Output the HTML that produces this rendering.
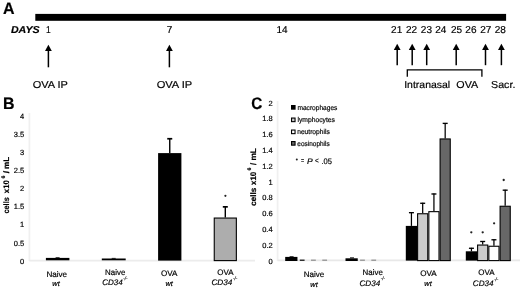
<!DOCTYPE html>
<html><head><meta charset="utf-8"><style>
html,body{margin:0;padding:0;background:#fff;}
svg{display:block;font-family:"Liberation Sans", sans-serif;text-rendering:geometricPrecision;filter:grayscale(1);}
text{stroke:#000;stroke-width:0.18px;}
</style></head><body>
<svg width="520" height="289" viewBox="0 0 520 289">
<rect width="520" height="289" fill="#fff"/>
<text transform="translate(3.05,13.5) scale(0.9981,1.0317)" font-size="16" font-weight="bold" fill="#000">A</text>
<rect x="35.3" y="13.9" width="470.8" height="6.9" fill="#000"/>
<text transform="translate(10.94,33.2) scale(1.0637,1.0000)" font-size="10" font-weight="bold" font-style="italic" fill="#000">DAYS</text>
<text transform="translate(45.93,33.2) scale(0.8500,1.0000)" font-size="10" fill="#000">1</text>
<text transform="translate(166.67,33.2)" font-size="10" fill="#000">7</text>
<text transform="translate(276.43,33.2)" font-size="10" fill="#000">14</text>
<text transform="translate(391.1,33.2)" font-size="10" fill="#000">21</text>
<text transform="translate(405.9,33.2)" font-size="10" fill="#000">22</text>
<text transform="translate(420.82,33.2)" font-size="10" fill="#000">23</text>
<text transform="translate(435.2,33.2)" font-size="10" fill="#000">24</text>
<text transform="translate(451.05,33.2)" font-size="10" fill="#000">25</text>
<text transform="translate(465.32,33.2)" font-size="10" fill="#000">26</text>
<text transform="translate(480.3,33.2)" font-size="10" fill="#000">27</text>
<text transform="translate(494.7,33.2)" font-size="10" fill="#000">28</text>
<path d="M45,50.9 L48.4,44.7 L51.8,50.9 Z" fill="#000"/>
<line x1="48.4" y1="50.4" x2="48.4" y2="67.3" stroke="#000" stroke-width="1.5"/>
<path d="M166,50.9 L169.4,44.7 L172.8,50.9 Z" fill="#000"/>
<line x1="169.4" y1="50.4" x2="169.4" y2="67.3" stroke="#000" stroke-width="1.5"/>
<path d="M393.8,50 L397.2,43.8 L400.6,50 Z" fill="#000"/>
<line x1="397.2" y1="49.5" x2="397.2" y2="65.2" stroke="#000" stroke-width="1.5"/>
<path d="M408.8,50 L412.2,43.8 L415.6,50 Z" fill="#000"/>
<line x1="412.2" y1="49.5" x2="412.2" y2="65.2" stroke="#000" stroke-width="1.5"/>
<path d="M423.3,50 L426.7,43.8 L430.1,50 Z" fill="#000"/>
<line x1="426.7" y1="49.5" x2="426.7" y2="65.2" stroke="#000" stroke-width="1.5"/>
<path d="M452.8,50 L456.2,43.8 L459.6,50 Z" fill="#000"/>
<line x1="456.2" y1="49.5" x2="456.2" y2="65.2" stroke="#000" stroke-width="1.5"/>
<path d="M482.1,50 L485.5,43.8 L488.9,50 Z" fill="#000"/>
<line x1="485.5" y1="49.5" x2="485.5" y2="65.2" stroke="#000" stroke-width="1.5"/>
<path d="M498,50 L501.4,43.8 L504.8,50 Z" fill="#000"/>
<line x1="501.4" y1="49.5" x2="501.4" y2="65.2" stroke="#000" stroke-width="1.5"/>
<path d="M407.3,76.7 V69.8 H481.9 V76.7" fill="none" stroke="#000" stroke-width="1.3"/>
<text transform="translate(32.66,87.7) scale(1.0965,1.0000)" font-size="10" fill="#000">OVA IP</text>
<text transform="translate(156.65,87.7) scale(1.1093,1.0000)" font-size="10" fill="#000">OVA IP</text>
<text transform="translate(404.21,87.6) scale(1.0460,1.0000)" font-size="10" fill="#000">Intranasal</text>
<text transform="translate(456.37,87.6) scale(1.0704,1.0000)" font-size="10" fill="#000">OVA</text>
<text transform="translate(491.07,87.6) scale(1.0654,1.0000)" font-size="10" fill="#000">Sacr.</text>
<text transform="translate(3.12,108.8) scale(0.9939,1.0408)" font-size="16" font-weight="bold" fill="#000">B</text>
<line x1="29.4" y1="113" x2="29.4" y2="261.1" stroke="#f0f0f0" stroke-width="1.8"/>
<line x1="29.4" y1="260.6" x2="255" y2="260.6" stroke="#ececec" stroke-width="1.6"/>
<text transform="translate(20.04,263.69)" font-size="7.5" fill="#000">0</text>
<text transform="translate(13.77,245.59)" font-size="7.5" fill="#000">0.5</text>
<text transform="translate(20.11,227.49)" font-size="7.5" fill="#000">1</text>
<text transform="translate(13.77,209.39)" font-size="7.5" fill="#000">1.5</text>
<text transform="translate(20.11,191.29)" font-size="7.5" fill="#000">2</text>
<text transform="translate(13.77,173.19)" font-size="7.5" fill="#000">2.5</text>
<text transform="translate(20.07,155.09)" font-size="7.5" fill="#000">3</text>
<text transform="translate(13.77,136.99)" font-size="7.5" fill="#000">3.5</text>
<text transform="translate(19.96,118.89)" font-size="7.5" fill="#000">4</text>
<g transform="translate(9.4,0) rotate(-90)">
<text transform="translate(-213.54,0) scale(0.9149,1.0000)" font-size="8" font-weight="bold" fill="#000">cells</text>
<text transform="translate(-193.13,0) scale(0.9675,1.0000)" font-size="8" font-weight="bold" fill="#000">x10</text>
<text transform="translate(-178.49,-4.6)" font-size="5.2" font-weight="bold" fill="#000">6</text>
<text transform="translate(-173.14,0) scale(1.1058,1.0000)" font-size="8" font-weight="bold" fill="#000">/</text>
<text transform="translate(-168.97,0) scale(1.0053,1.0000)" font-size="8" font-weight="bold" fill="#000">mL</text>
</g>
<rect x="45.9" y="257.9" width="23.5" height="2.4" fill="#000"/>
<rect x="101.8" y="258.5" width="23.9" height="1.8" fill="#000"/>
<line x1="169.75" y1="153.1" x2="169.75" y2="138.1" stroke="#000" stroke-width="1.4"/>
<line x1="167.25" y1="138.75" x2="172.25" y2="138.75" stroke="#000" stroke-width="1.7"/>
<rect x="158.1" y="153.1" width="23.3" height="107.5" fill="#000"/>
<line x1="225.3" y1="217.5" x2="225.3" y2="206.2" stroke="#000" stroke-width="1.4"/>
<line x1="222.8" y1="206.85" x2="227.8" y2="206.85" stroke="#000" stroke-width="1.7"/>
<rect x="214.25" y="218.05" width="22.1" height="42.55" fill="#adadad" stroke="#000" stroke-width="1.1"/>
<rect x="55.6" y="257.3" width="4" height="0.8" fill="#000"/>
<rect x="111.7" y="257.9" width="4" height="0.8" fill="#000"/>
<circle cx="225.4" cy="195.8" r="1.1" fill="#222"/>
<text transform="translate(46.4,276.5) scale(1.0082,1.0000)" font-size="8" fill="#000">Naive</text>
<text transform="translate(52.3,286.3)" font-size="7.4" font-style="italic" fill="#000">wt</text>
<text transform="translate(105.12,275.1) scale(0.9877,1.0000)" font-size="8" fill="#000">Naive</text>
<text transform="translate(102.21,285.4) scale(1.0041,1.0000)" font-size="8" font-style="italic" fill="#000">CD34</text>
<text transform="translate(123.33,280.4) scale(0.8966,1.0000)" font-size="5" font-style="italic" fill="#444">-/-</text>
<text transform="translate(160.99,276.2) scale(1.0113,1.0000)" font-size="8" fill="#000">OVA</text>
<text transform="translate(165.5,286.3)" font-size="7.4" font-style="italic" fill="#000">wt</text>
<text transform="translate(217.29,275.4) scale(0.9987,1.0000)" font-size="8" fill="#000">OVA</text>
<text transform="translate(211.4,285.4) scale(1.0243,1.0000)" font-size="8" font-style="italic" fill="#000">CD34</text>
<text transform="translate(232.93,280.4) scale(0.8966,1.0000)" font-size="5" font-style="italic" fill="#444">-/-</text>
<text transform="translate(251.24,108.83) scale(0.9542,1.0379)" font-size="16" font-weight="bold" fill="#000">C</text>
<line x1="277.6" y1="101" x2="277.6" y2="261.1" stroke="#f0f0f0" stroke-width="1.8"/>
<line x1="277.6" y1="260.4" x2="520" y2="260.4" stroke="#e8e8e8" stroke-width="1.6"/>
<text transform="translate(268.54,263.59)" font-size="7.5" fill="#000">0</text>
<text transform="translate(262.35,247.79)" font-size="7.5" fill="#000">0.2</text>
<text transform="translate(262.2,231.99)" font-size="7.5" fill="#000">0.4</text>
<text transform="translate(262.31,216.19)" font-size="7.5" fill="#000">0.6</text>
<text transform="translate(262.27,200.39)" font-size="7.5" fill="#000">0.8</text>
<text transform="translate(268.61,184.59)" font-size="7.5" fill="#000">1</text>
<text transform="translate(262.35,168.79)" font-size="7.5" fill="#000">1.2</text>
<text transform="translate(262.2,152.99)" font-size="7.5" fill="#000">1.4</text>
<text transform="translate(262.31,137.19)" font-size="7.5" fill="#000">1.6</text>
<text transform="translate(262.27,121.39)" font-size="7.5" fill="#000">1.8</text>
<text transform="translate(268.61,105.59)" font-size="7.5" fill="#000">2</text>
<g transform="translate(255.5,0) rotate(-90)">
<text transform="translate(-205.67,0) scale(1.0023,1.0000)" font-size="8" font-weight="bold" fill="#000">cells</text>
<text transform="translate(-184.93,0) scale(0.9830,1.0000)" font-size="8" font-weight="bold" fill="#000">x10</text>
<text transform="translate(-170.54,-4.2)" font-size="5.2" font-weight="bold" fill="#000">6</text>
<text transform="translate(-164.93,0) scale(0.9615,1.0000)" font-size="8" font-weight="bold" fill="#000">/</text>
<text transform="translate(-160.6,0) scale(1.0498,1.0000)" font-size="8" font-weight="bold" fill="#000">mL</text>
</g>
<rect x="291" y="105" width="4.6" height="4.7" fill="#000"/>
<text transform="translate(297.42,109.8) scale(0.9420,1.0000)" font-size="7" fill="#000">macrophages</text>
<rect x="291.55" y="118.05" width="3.5" height="3.6" fill="#cbcbcb" stroke="#000" stroke-width="1.1"/>
<text transform="translate(297.41,121.5) scale(0.9628,1.0000)" font-size="7" fill="#000">lymphocytes</text>
<rect x="291.55" y="130.05" width="3.5" height="3.6" fill="#fff" stroke="#000" stroke-width="1.1"/>
<text transform="translate(297.22,133.8) scale(0.9484,1.0000)" font-size="7" fill="#000">neutrophils</text>
<rect x="291.55" y="141.55" width="3.5" height="3.6" fill="#676767" stroke="#000" stroke-width="1.1"/>
<text transform="translate(297.36,145.5) scale(0.9224,1.0000)" font-size="7" fill="#000">eosinophils</text>
<circle cx="296.8" cy="159.4" r="1.0" fill="#222"/>
<text transform="translate(300.98,163.2) scale(0.7148,1.0000)" font-size="7.5" fill="#000">=</text>
<text transform="translate(306.89,163.6) scale(1.0714,1.0000)" font-size="8" font-style="italic" fill="#000">P</text>
<text transform="translate(314.93,163.2) scale(0.8522,1.0000)" font-size="7.5" fill="#000">&lt;</text>
<text transform="translate(321.47,163.7) scale(0.9425,1.0000)" font-size="8" fill="#000">.05</text>
<rect x="285.2" y="256.9" width="12.25" height="4.1" fill="#000"/>
<line x1="299.78" y1="260.2" x2="304.57" y2="260.2" stroke="#000" stroke-width="1.2"/>
<line x1="311.03" y1="260.2" x2="315.82" y2="260.2" stroke="#8a8a8a" stroke-width="1.2"/>
<line x1="322.28" y1="260.2" x2="327.07" y2="260.2" stroke="#8a8a8a" stroke-width="1.2"/>
<rect x="345.5" y="258.3" width="12.25" height="2.7" fill="#000"/>
<line x1="360.08" y1="260.2" x2="364.88" y2="260.2" stroke="#8a8a8a" stroke-width="1.2"/>
<line x1="371.33" y1="260.2" x2="376.12" y2="260.2" stroke="#8a8a8a" stroke-width="1.2"/>
<line x1="411.43" y1="225.9" x2="411.43" y2="212.2" stroke="#000" stroke-width="1.25"/>
<line x1="408.93" y1="212.68" x2="413.93" y2="212.68" stroke="#000" stroke-width="1.35"/>
<rect x="405.8" y="225.9" width="11.25" height="34.7" fill="#000"/>
<line x1="422.68" y1="213.2" x2="422.68" y2="202.8" stroke="#000" stroke-width="1.25"/>
<line x1="420.18" y1="203.28" x2="425.18" y2="203.28" stroke="#000" stroke-width="1.35"/>
<rect x="417.6" y="213.75" width="10.15" height="46.85" fill="#cbcbcb" stroke="#000" stroke-width="1.1"/>
<line x1="433.93" y1="211.1" x2="433.93" y2="193.5" stroke="#000" stroke-width="1.25"/>
<line x1="431.43" y1="193.98" x2="436.43" y2="193.98" stroke="#000" stroke-width="1.35"/>
<rect x="428.85" y="211.65" width="10.15" height="48.95" fill="#fff" stroke="#000" stroke-width="1.1"/>
<line x1="445.18" y1="138.4" x2="445.18" y2="122.9" stroke="#000" stroke-width="1.25"/>
<line x1="442.68" y1="123.38" x2="447.68" y2="123.38" stroke="#000" stroke-width="1.35"/>
<rect x="440.1" y="138.95" width="10.15" height="121.65" fill="#676767" stroke="#000" stroke-width="1.1"/>
<line x1="471.43" y1="251.3" x2="471.43" y2="247.8" stroke="#000" stroke-width="1.25"/>
<line x1="468.93" y1="248.28" x2="473.93" y2="248.28" stroke="#000" stroke-width="1.35"/>
<rect x="465.8" y="251.3" width="11.25" height="9.3" fill="#000"/>
<line x1="482.68" y1="244.5" x2="482.68" y2="241" stroke="#000" stroke-width="1.25"/>
<line x1="480.18" y1="241.48" x2="485.18" y2="241.48" stroke="#000" stroke-width="1.35"/>
<rect x="477.6" y="245.05" width="10.15" height="15.55" fill="#cbcbcb" stroke="#000" stroke-width="1.1"/>
<line x1="493.93" y1="245.7" x2="493.93" y2="239.3" stroke="#000" stroke-width="1.25"/>
<line x1="491.43" y1="239.78" x2="496.43" y2="239.78" stroke="#000" stroke-width="1.35"/>
<rect x="488.85" y="246.25" width="10.15" height="14.35" fill="#fff" stroke="#000" stroke-width="1.1"/>
<line x1="505.18" y1="205.7" x2="505.18" y2="189.7" stroke="#000" stroke-width="1.25"/>
<line x1="502.68" y1="190.18" x2="507.68" y2="190.18" stroke="#000" stroke-width="1.35"/>
<rect x="500.1" y="206.25" width="10.15" height="54.35" fill="#676767" stroke="#000" stroke-width="1.1"/>
<rect x="289.6" y="256.3" width="4" height="0.9" fill="#000"/>
<rect x="350" y="257.4" width="4" height="0.9" fill="#000"/>
<circle cx="471.3" cy="232.3" r="1.15" fill="#222"/>
<circle cx="482.7" cy="232.3" r="1.15" fill="#222"/>
<circle cx="494.1" cy="223.3" r="1.15" fill="#222"/>
<circle cx="503.7" cy="180.0" r="1.15" fill="#222"/>
<text transform="translate(303.71,276.5) scale(1.0031,1.0000)" font-size="8" fill="#000">Naive</text>
<text transform="translate(310.3,286.6)" font-size="7.4" font-style="italic" fill="#000">wt</text>
<text transform="translate(362.62,275.1) scale(0.9877,1.0000)" font-size="8" fill="#000">Naive</text>
<text transform="translate(359.5,285.6) scale(1.0142,1.0000)" font-size="8" font-style="italic" fill="#000">CD34</text>
<text transform="translate(380.83,280.4) scale(0.8966,1.0000)" font-size="5" font-style="italic" fill="#444">-/-</text>
<text transform="translate(420.19,276.4) scale(1.0113,1.0000)" font-size="8" fill="#000">OVA</text>
<text transform="translate(424.3,286)" font-size="7.4" font-style="italic" fill="#000">wt</text>
<text transform="translate(478.29,275.4) scale(0.9987,1.0000)" font-size="8" fill="#000">OVA</text>
<text transform="translate(472.8,286.1) scale(1.0142,1.0000)" font-size="8" font-style="italic" fill="#000">CD34</text>
<text transform="translate(494.13,280.8) scale(0.8966,1.0000)" font-size="5" font-style="italic" fill="#444">-/-</text>
</svg>
</body></html>
